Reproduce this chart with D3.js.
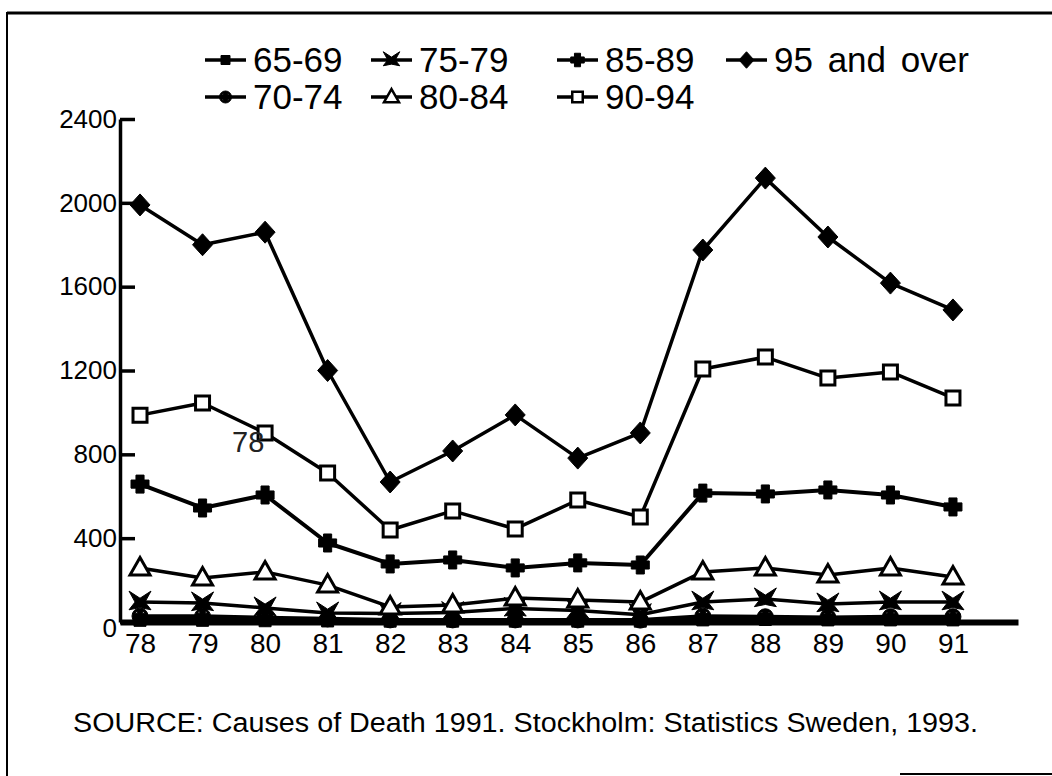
<!DOCTYPE html>
<html>
<head>
<meta charset="utf-8">
<script src="https://cdn.jsdelivr.net/npm/d3@7"></script>
<style>
  body { margin: 0; background: #fff; }
  svg { display: block; font-family: "Liberation Sans", Arial, sans-serif; }
</style>
</head>
<body>
<svg class="chart" width="1052" height="776"></svg>
<script>
var years = [78, 79, 80, 81, 82, 83, 84, 85, 86, 87, 88, 89, 90, 91];
var yTicks = [0, 400, 800, 1200, 1600, 2000, 2400];

var age65 = [8, 8, 6, 5, 4, 4, 4, 4, 4, 10, 12, 10, 10, 10];
var age70 = [28, 27, 20, 15, 10, 10, 10, 10, 9, 28, 25, 22, 25, 25];
var age75 = [95, 91, 67, 43, 40, 45, 65, 55, 35, 95, 110, 86, 95, 95];
var age80 = [258, 210, 239, 176, 72, 81, 114, 105, 95, 239, 258, 224, 258, 215];
var age85 = [658, 544, 606, 377, 277, 296, 258, 282, 272, 615, 611, 630, 606, 549];
var age90 = [987, 1045, 902, 711, 439, 530, 444, 582, 501, 1207, 1264, 1164, 1193, 1069];
var age95 = [1990, 1800, 1860, 1200, 668, 816, 988, 782, 902, 1775, 2118, 1837, 1617, 1489];

var sourceNote = "SOURCE: Causes of Death 1991. Stockholm: Statistics Sweden, 1993.";

// custom marker shapes, size = half width
var diamond = { draw: function(c, r) {
  c.moveTo(0, -r * 1.1); c.lineTo(r, 0); c.lineTo(0, r * 1.1); c.lineTo(-r, 0); c.closePath();
}};
var square = { draw: function(c, r) { c.rect(-r, -r, 2 * r, 2 * r); } };
var plus = { draw: function(c, r) {
  var w = r * 0.45;
  c.moveTo(-w, -r); c.lineTo(w, -r); c.lineTo(w, -w); c.lineTo(r, -w); c.lineTo(r, w);
  c.lineTo(w, w); c.lineTo(w, r); c.lineTo(-w, r); c.lineTo(-w, w); c.lineTo(-r, w);
  c.lineTo(-r, -w); c.lineTo(-w, -w); c.closePath();
}};
var bowtie = { draw: function(c, r) {
  c.moveTo(-r, -r); c.lineTo(0, -r * 0.35); c.lineTo(r, -r); c.lineTo(r * 0.45, 0);
  c.lineTo(r, r * 0.7); c.lineTo(0, r * 0.5); c.lineTo(-r, r * 0.7); c.lineTo(-r * 0.45, 0); c.closePath();
}};
var triangle = { draw: function(c, r) {
  c.moveTo(0, -r * 1.05); c.lineTo(r, r * 0.7); c.lineTo(-r, r * 0.7); c.closePath();
}};
var dotted = { draw: function(c, r) {
  c.moveTo(r, 0); c.arc(0, 0, r, 0, 2 * Math.PI);
  var d = r * 0.22, o = r * 0.45;
  [[-o, -o], [o, -o], [0, 0], [-o, o], [o, o]].forEach(function(p) {
    c.rect(p[0] - d / 2, p[1] - d / 2, d, d);
  });
}};

var series = [
  {name: "65-69", values: age65, shape: square, fill: "#000", r: 6, lw: 6},
  {name: "70-74", values: age70, shape: dotted, fill: "#000", r: 8, lw: 4},
  {name: "75-79", values: age75, shape: bowtie, fill: "#000", r: 11, lw: 3.5},
  {name: "80-84", values: age80, shape: triangle, fill: "#fff", r: 10, lw: 3.5},
  {name: "85-89", values: age85, shape: plus, fill: "#000", r: 9, lw: 4},
  {name: "90-94", values: age90, shape: square, fill: "#fff", r: 7, lw: 3.5},
  {name: "95 and over", values: age95, shape: diamond, fill: "#000", r: 10, lw: 3.5}
];

var svg = d3.select(".chart");

var x = d3.scaleLinear().domain([77.68, 92.04]).range([120, 1018]);
var y = d3.scaleLinear().domain([0, 2400]).range([622, 119]);

// frame
svg.append("line").attr("x1", 7).attr("y1", 13).attr("x2", 1052).attr("y2", 13)
    .attr("stroke", "#000").attr("stroke-width", 3);
svg.append("line").attr("x1", 7).attr("y1", 12).attr("x2", 7).attr("y2", 776)
    .attr("stroke", "#000").attr("stroke-width", 2);
svg.append("line").attr("x1", 900).attr("y1", 774).attr("x2", 1052).attr("y2", 774)
    .attr("stroke", "#000").attr("stroke-width", 2);

// y axis, ticks pointing inwards
var yAxis = svg.append("g")
    .attr("transform", "translate(120,0)")
    .call(d3.axisLeft(y).tickValues(yTicks).tickFormat(d3.format("d"))
      .tickSizeInner(-15).tickSizeOuter(0).tickPadding(3));
yAxis.select(".domain").attr("stroke-width", 3.5);
yAxis.selectAll(".tick line").attr("stroke-width", 3.5);
yAxis.selectAll(".tick text").attr("font-size", 26).attr("font-family", "Liberation Sans, Arial, sans-serif")
    .attr("fill", "#000").attr("x", -3)
    .attr("dy", function(d) { return d === 0 ? "0.55em" : "0.32em"; });

// x axis
var xAxis = svg.append("g")
    .attr("transform", "translate(0," + y(0) + ")")
    .call(d3.axisBottom(x).tickValues(years).tickSize(0).tickPadding(11).tickFormat(d3.format("d")));
xAxis.select(".domain").attr("stroke-width", 6);
xAxis.selectAll(".tick text").attr("font-size", 28).attr("font-family", "Liberation Sans, Arial, sans-serif")
    .attr("fill", "#000");

var line = d3.line()
    .x(function(d, i) { return x(years[i]); })
    .y(function(d) { return y(d); });

var symbol = d3.symbol();

var groups = svg.selectAll(".series")
    .data(series)
  .enter().append("g")
    .attr("class", "series");

groups.append("path")
    .attr("d", function(s) { return line(s.values); })
    .attr("fill", "none")
    .attr("stroke", "#000")
    .attr("stroke-width", function(s) { return s.lw; })
    .attr("stroke-linejoin", "round");

groups.each(function(s) {
  d3.select(this).selectAll(".mark")
      .data(s.values)
    .enter().append("path")
      .attr("class", "mark")
      .attr("transform", function(d, i) { return "translate(" + x(years[i]) + "," + y(d) + ")"; })
      .attr("d", symbol.type(s.shape).size(s.r))
      .attr("fill", s.fill)
      .attr("fill-rule", "evenodd")
      .attr("stroke", "#000")
      .attr("stroke-width", s.fill === "#fff" ? 3 : 1);
});

// stray label in the original scan
svg.append("text")
    .attr("x", 232).attr("y", 452)
    .attr("font-size", 29)
    .attr("fill", "#222")
    .text("78");

// legend
var legendCols = [205, 371, 557, 726];
var legendRows = [60, 97];
var legendOrder = [0, 2, 4, 6, 1, 3, 5];

var legend = svg.selectAll(".legend")
    .data(legendOrder)
  .enter().append("g")
    .attr("class", "legend")
    .attr("transform", function(k, i) {
      return "translate(" + legendCols[i % 4] + "," + legendRows[i < 4 ? 0 : 1] + ")";
    });

legend.append("line")
    .attr("x1", 0).attr("x2", 41)
    .attr("stroke", "#000").attr("stroke-width", 3.5);

legend.append("path")
    .attr("transform", "translate(20.5,0)")
    .attr("d", function(k) { return symbol.type(series[k].shape).size(series[k].r * 0.75)(); })
    .attr("fill", function(k) { return series[k].fill; })
    .attr("fill-rule", "evenodd")
    .attr("stroke", "#000")
    .attr("stroke-width", function(k) { return series[k].fill === "#fff" ? 2.5 : 1; });

legend.append("text")
    .attr("x", 48)
    .attr("dy", "0.35em")
    .attr("font-size", 35)
    .attr("word-spacing", 5)
    .attr("fill", "#000")
    .text(function(k) { return series[k].name; });

// source note
svg.append("text")
    .attr("x", 73).attr("y", 732)
    .attr("font-size", 27)
    .attr("textLength", 905)
    .attr("lengthAdjust", "spacingAndGlyphs")
    .attr("fill", "#000")
    .text(sourceNote);
</script>
</body>
</html>
